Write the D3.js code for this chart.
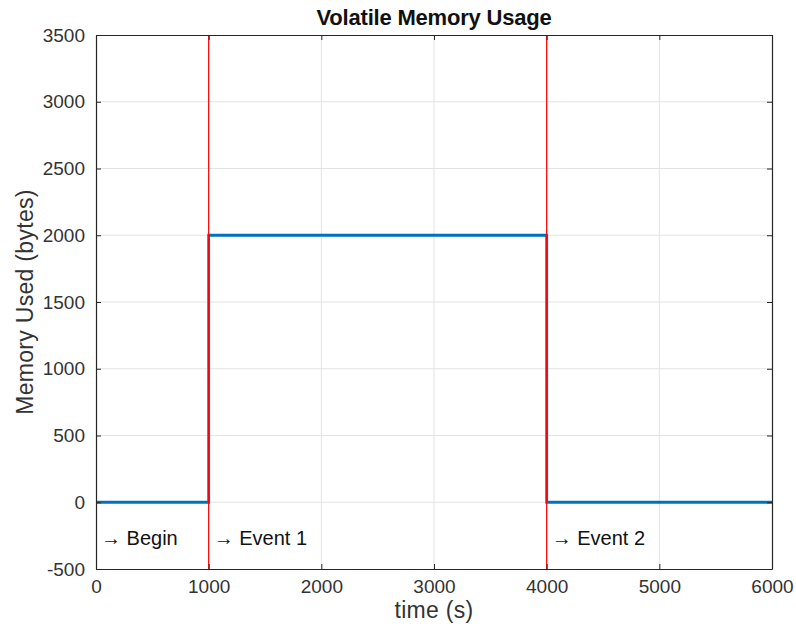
<!DOCTYPE html>
<html>
<head>
<meta charset="utf-8">
<script src="https://cdn.jsdelivr.net/npm/d3@7"></script>
<style>
  html, body { margin: 0; padding: 0; background: #fff; overflow: hidden; }
  svg { display: block; }
  text { font-family: "Liberation Sans", Arial, Helvetica, sans-serif; fill: #262626; }
</style>
</head>
<body>
<div id="chart"></div>
<script>
// Data
const timeSteps = [0, 1000, 1000, 4000, 4000, 6000];
const memoryValues = [0, 0, 2000, 2000, 0, 0];
const eventTimes = [0, 1000, 4000];
const eventLabels = ['\u2192 Begin', '\u2192 Event 1', '\u2192 Event 2'];
const redLineTimes = [1000, 4000];
const xTicks = [0, 1000, 2000, 3000, 4000, 5000, 6000];
const yTicks = [-500, 0, 500, 1000, 1500, 2000, 2500, 3000, 3500];

const width = 796;
const height = 628;
const margin = { top: 35, right: 24, bottom: 59, left: 96 };
const innerWidth = width - margin.left - margin.right;
const innerHeight = height - margin.top - margin.bottom;

const svg = d3.select('#chart')
  .append('svg')
  .attr('width', width)
  .attr('height', height);

const g = svg.append('g')
  .attr('transform', `translate(${margin.left},${margin.top})`);

const x = d3.scaleLinear().domain([0, 6000]).range([0, innerWidth]);
const y = d3.scaleLinear().domain([-500, 3500]).range([innerHeight, 0]);

// grid
g.append('g').selectAll('line').data(xTicks.slice(1, -1)).enter().append('line')
  .attr('x1', d => x(d)).attr('x2', d => x(d))
  .attr('y1', 0).attr('y2', innerHeight)
  .attr('stroke', '#e3e3e3').attr('stroke-width', 1);
g.append('g').selectAll('line').data(yTicks.slice(1, -1)).enter().append('line')
  .attr('x1', 0).attr('x2', innerWidth)
  .attr('y1', d => y(d)).attr('y2', d => y(d))
  .attr('stroke', '#e3e3e3').attr('stroke-width', 1);

// memory line
const data = timeSteps.map((t, i) => ({ t, v: memoryValues[i] }));
g.append('path')
  .datum(data)
  .attr('fill', 'none')
  .attr('stroke', '#0072BD')
  .attr('stroke-width', 2.8)
  .attr('d', d3.line().x(d => x(d.t)).y(d => y(d.v)));

// event lines
g.append('g').selectAll('line').data(redLineTimes).enter().append('line')
  .attr('x1', d => x(d)).attr('x2', d => x(d))
  .attr('y1', 0).attr('y2', innerHeight)
  .attr('stroke', '#ff0000').attr('stroke-width', 1.2);

// event labels
g.append('g').selectAll('text').data(eventTimes).enter().append('text')
  .attr('x', d => x(d) + 5)
  .attr('y', y(-250))
  .attr('dy', '0.45em')
  .style('font-size', '20px')
  .style('fill', '#111')
  .text((d, i) => eventLabels[i]);

// axes
const fmt = d => String(d);
const xAxis = d3.axisBottom(x).tickValues(xTicks).tickFormat(fmt).tickSizeInner(-5).tickSizeOuter(0).tickPadding(11);
const yAxis = d3.axisLeft(y).tickValues(yTicks).tickFormat(fmt).tickSizeInner(-5).tickSizeOuter(0).tickPadding(11);

const gx = g.append('g').attr('transform', `translate(0,${innerHeight})`).call(xAxis);
const gy = g.append('g').call(yAxis);
const gxTop = g.append('g').call(d3.axisTop(x).tickValues(xTicks).tickSizeInner(-5).tickSizeOuter(0).tickFormat(''));
const gyRight = g.append('g').attr('transform', `translate(${innerWidth},0)`)
  .call(d3.axisRight(y).tickValues(yTicks).tickSizeInner(-5).tickSizeOuter(0).tickFormat(''));

[gx, gy, gxTop, gyRight].forEach(a => {
  a.select('.domain').attr('stroke', '#262626').attr('stroke-width', 1.2);
  a.selectAll('.tick line').attr('stroke', '#262626');
  a.selectAll('.tick text').style('font-size', '19px').style('fill', '#333');
});
gxTop.selectAll('.tick text').remove();
gyRight.selectAll('.tick text').remove();

// axis labels and title
svg.append('text')
  .attr('x', margin.left + innerWidth / 2)
  .attr('y', 618)
  .attr('text-anchor', 'middle')
  .style('font-size', '23px')
  .style('letter-spacing', '0.3px')
  .style('fill', '#333')
  .text('time (s)');

svg.append('text')
  .attr('transform', `translate(33,${margin.top + innerHeight / 2}) rotate(-90)`)
  .attr('text-anchor', 'middle')
  .style('font-size', '23px')
  .style('letter-spacing', '0.3px')
  .style('fill', '#333')
  .text('Memory Used (bytes)');

svg.append('text')
  .attr('x', margin.left + innerWidth / 2)
  .attr('y', 25)
  .attr('text-anchor', 'middle')
  .style('font-size', '22px')
  .style('font-weight', 'bold')
  .style('letter-spacing', '-0.2px')
  .style('fill', '#111')
  .text('Volatile Memory Usage');
</script>
</body>
</html>
